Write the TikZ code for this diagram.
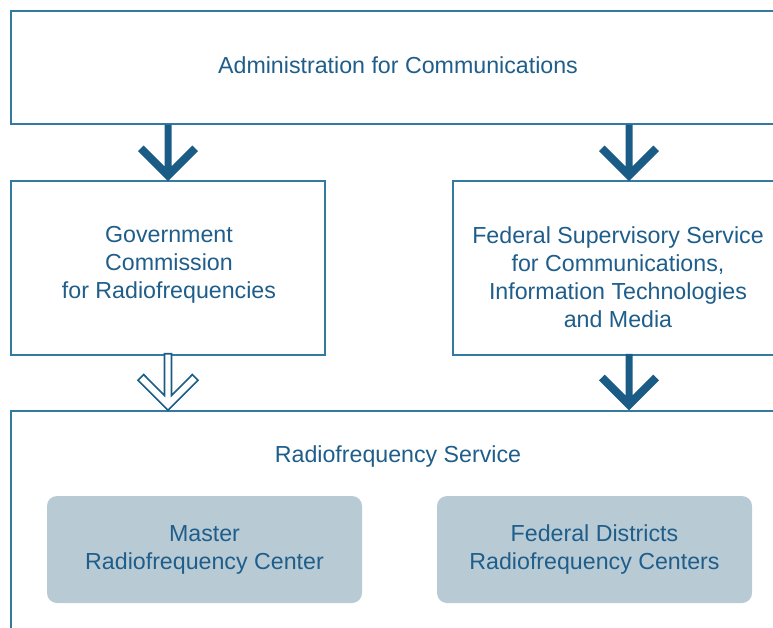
\documentclass[tikz,border=0pt]{standalone}
\usepackage{fontspec}
\setmainfont{Liberation Sans}
\usetikzlibrary{calc}
\definecolor{dblue}{HTML}{1B5C87}
\definecolor{lblue}{HTML}{3479A1}
\definecolor{tblue}{HTML}{1F5E8A}
\definecolor{gfill}{HTML}{B8CAD4}
\newcommand\arrowpath{(0,0) -- (-30,-30) -- (-24.3,-35.7) -- (-3.5,-14.8) -- (-3.5,-56.5) -- (3.5,-56.5) -- (3.5,-14.8) -- (24.3,-35.7) -- (30,-30) -- cycle}
\begin{document}
\begin{tikzpicture}[x=0.75pt,y=-0.75pt,
  box/.style={draw=lblue, line width=1.1pt, fill=white, inner sep=0pt},
  gbox/.style={fill=gfill, rounded corners=7.5pt, inner sep=0pt, minimum width=236.25pt, minimum height=80.25pt, align=center, text=tblue, font=\fontsize{17.4}{21}\selectfont},
  lbl/.style={text=tblue, align=center, inner sep=0pt, font=\fontsize{17.4}{21}\selectfont},
  solidarrow/.style={fill=dblue},
  hollowarrow/.style={fill=white, draw=dblue, line width=1.2pt, line join=miter}]
\useasboundingbox (0,0) rectangle (773,627);
\clip (0,0) rectangle (773,627);
\node[box, minimum width=580.5pt, minimum height=84.75pt] (top) at (398,67.5) {};
\node[box, minimum width=235.5pt, minimum height=130.5pt] (left) at (168,268) {};
\node[box, minimum width=264pt, minimum height=130.5pt] (right) at (629,268) {};
\node[box, minimum width=580.5pt, minimum height=216.75pt] (bottom) at (398,555.5) {};
\node[lbl] (ttop) at (398,65.5) {Administration for Communications};
\node[lbl, anchor=north] (tleft) at (169,226) {Government\\Commission\\for Radiofrequencies};
\node[lbl, anchor=north] (tright) at (618,226) {Federal Supervisory Service\\for Communications,\\Information Technologies\\and Media};
\node[lbl] (tbottom) at (398,456) {Radiofrequency Service};
\node[gbox] (master) at (204.5,549.5) {Master\\Radiofrequency Center};
\node[gbox] (districts) at (594.5,549.5) {Federal Districts\\Radiofrequency Centers};
\path[solidarrow, shift={(top.south -| left.north)}, shift={(0,56.5)}] \arrowpath;
\path[solidarrow, shift={(top.south -| right.north)}, shift={(0,56.5)}] \arrowpath;
\path[hollowarrow, shift={(left.south |- bottom.north)}] \arrowpath;
\path[solidarrow, shift={(right.south |- bottom.north)}] \arrowpath;
\end{tikzpicture}
\end{document}
